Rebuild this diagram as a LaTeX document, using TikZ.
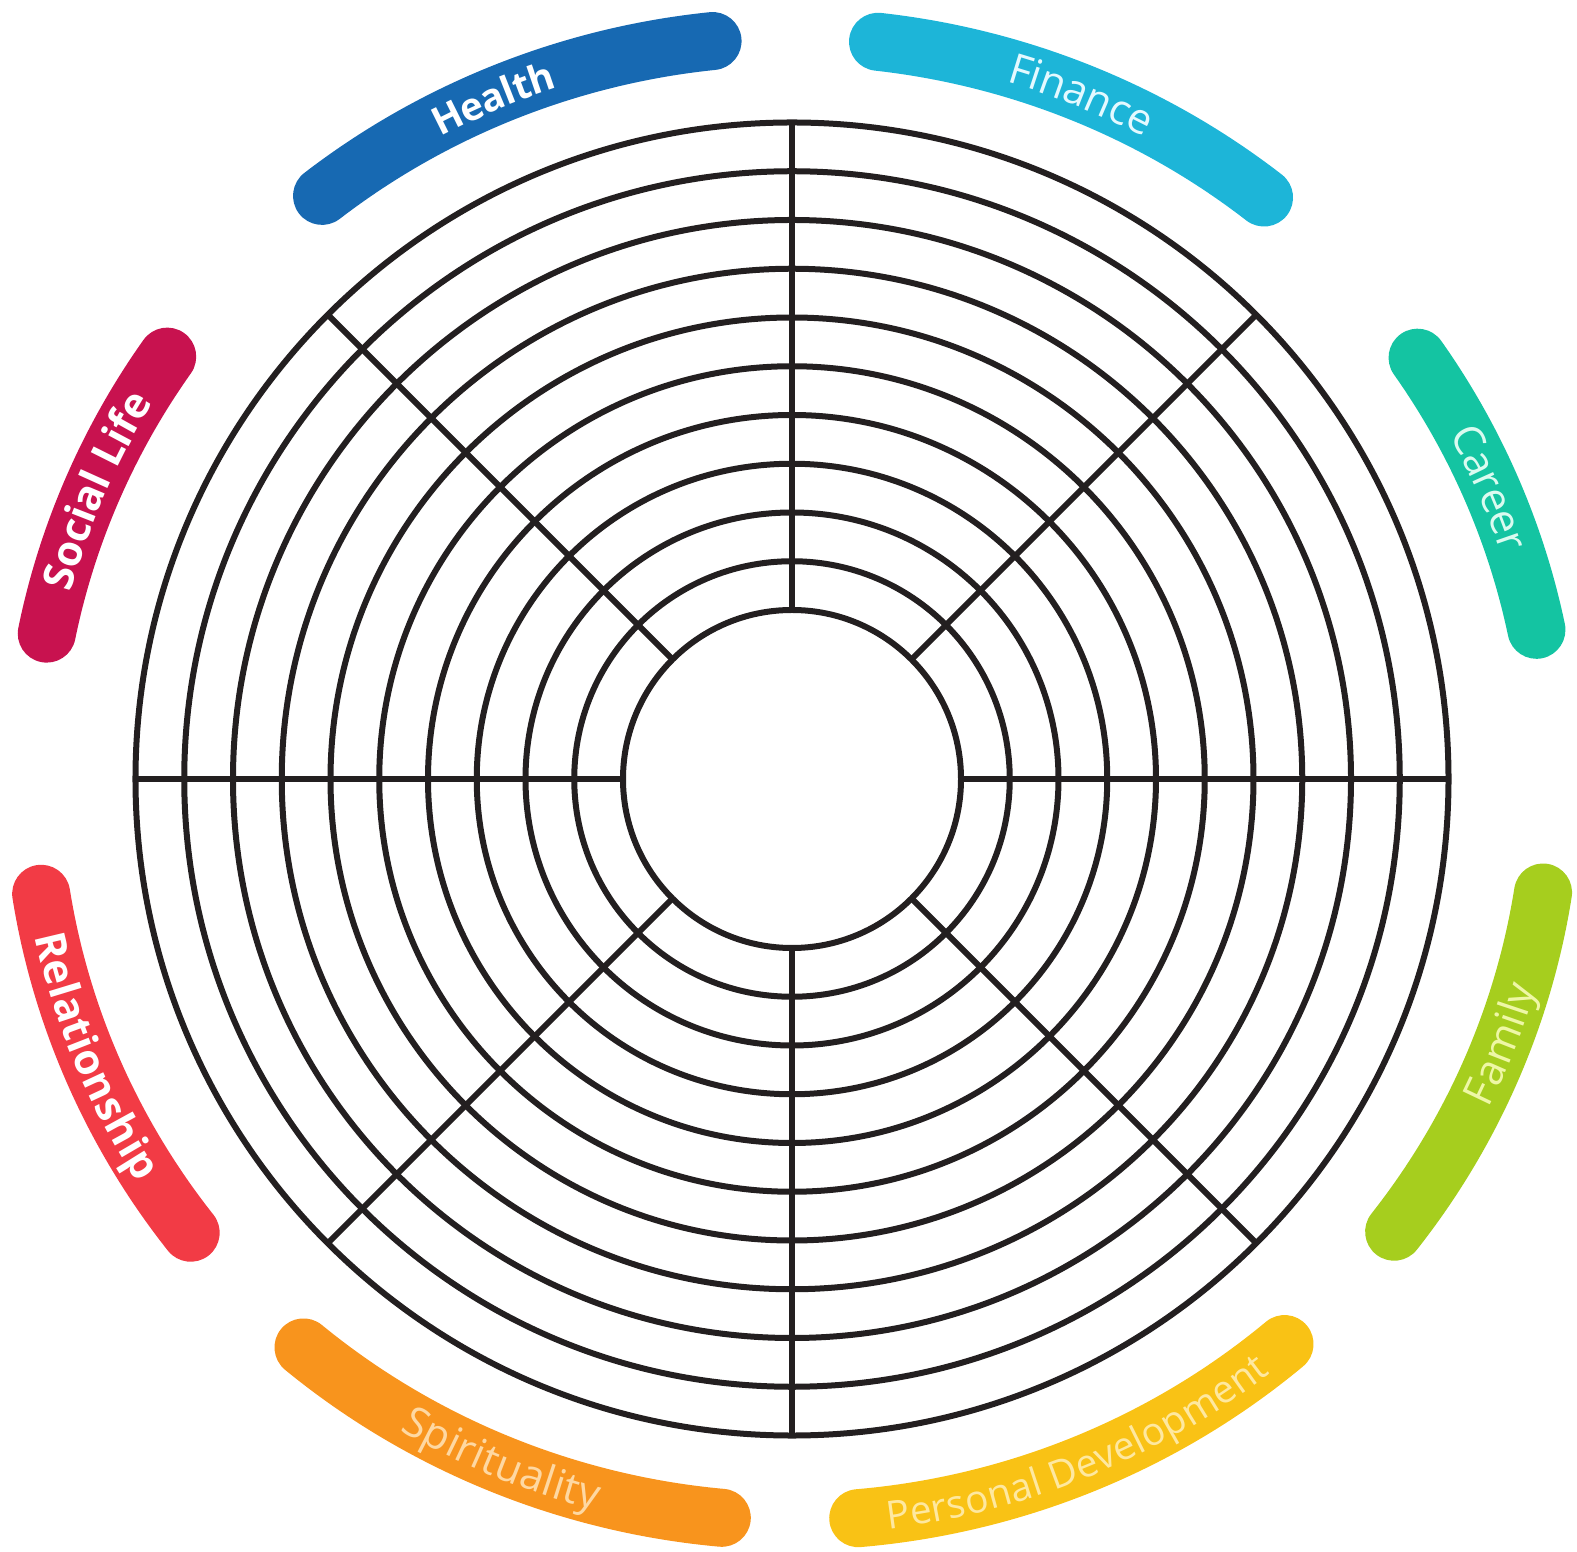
\documentclass[tikz,border=0pt]{standalone}
\usepackage{fontspec}
\setmainfont{Open Sans}
\usetikzlibrary{decorations.text}

\definecolor{gridline}{HTML}{231F20}
\definecolor{healthblue}{HTML}{1769B2}
\definecolor{financecyan}{HTML}{1DB5D8}
\definecolor{careerteal}{HTML}{14C4A2}
\definecolor{familygreen}{HTML}{A6CE1E}
\definecolor{growthyellow}{HTML}{F9C215}
\definecolor{spiritorange}{HTML}{F8941D}
\definecolor{relationred}{HTML}{F23B45}
\definecolor{socialcrimson}{HTML}{C8124F}
\definecolor{financetxt}{HTML}{E4F9FF}
\definecolor{careertxt}{HTML}{DAFBF0}
\definecolor{familytxt}{HTML}{EEF7A6}
\definecolor{growthtxt}{HTML}{FEE8A0}
\definecolor{spirittxt}{HTML}{FED8A2}

\newcommand{\bandfont}{\fontsize{12}{14}\selectfont}
\newcommand{\smallbandfont}{\fontsize{11}{13}\selectfont}

\begin{document}
\begin{tikzpicture}[
    grid/.style={draw=gridline, line width=0.06cm},
    band/.style={line width=0.58cm, line cap=round},
    bandtext/.style 2 args={postaction={decorate, decoration={text along path,
                     text={#2}, text align={center, #1}, raise=-1.4mm}}}
]
\useasboundingbox (-7.92,-7.72) rectangle (7.85,7.79);

% Centre
\coordinate (hub) at (0,0);

% Rings
\foreach \r in {0,...,10}
    \draw[grid] (hub) circle[radius=1.69+0.4875*\r];

% Spokes
\foreach \a in {0,45,...,315}
    \draw[grid] ([shift={(\a:1.69)}]hub) -- ([shift={(\a:6.565)}]hub);

% Upper bands (clockwise)
\draw[band, healthblue, bandtext={right indent=3mm}{|\smallbandfont\bfseries\color{white}|Health}]
    ([shift={(128.2:7.6 and 7.42)}]hub) arc[start angle=128.2, end angle=96, x radius=7.6, y radius=7.42];
\draw[band, financecyan, bandtext={}{|\bandfont\color{financetxt}|Finance}]
    ([shift={(83.5:7.6 and 7.42)}]hub) arc[start angle=83.5, end angle=51.6, x radius=7.6, y radius=7.42];
\draw[band, careerteal, bandtext={}{|\bandfont\color{careertxt}|Career}]
    ([shift={(34.6:7.6 and 7.42)}]hub) arc[start angle=34.6, end angle=11.6, x radius=7.6, y radius=7.42];
\draw[band, socialcrimson, bandtext={}{|\bandfont\bfseries\color{white}|Social Life}]
    ([shift={(168.7:7.6 and 7.42)}]hub) arc[start angle=168.7, end angle=145.3, x radius=7.6, y radius=7.42];

% Lower bands (counter-clockwise)
\draw[band, familygreen, bandtext={left indent=6mm}{|\bandfont\color{familytxt}|Family}]
    ([shift={(-37.6:7.6 and 7.42)}]hub) arc[start angle=-37.6, end angle=-8.8, x radius=7.6, y radius=7.42];
\draw[band, growthyellow, bandtext={}{|\smallbandfont\color{growthtxt}|Personal Development}]
    ([shift={(-85:7.6 and 7.42)}]hub) arc[start angle=-85, end angle=-49.6, x radius=7.6, y radius=7.42];
\draw[band, spiritorange, bandtext={}{|\bandfont\color{spirittxt}|Spirituality}]
    ([shift={(-130:7.6 and 7.42)}]hub) arc[start angle=-130, end angle=-95.3, x radius=7.6, y radius=7.42];
\draw[band, relationred, bandtext={right indent=3mm}{|\bandfont\bfseries\color{white}|Relationship}]
    ([shift={(188.9:7.6 and 7.42)}]hub) arc[start angle=188.9, end angle=217.7, x radius=7.6, y radius=7.42];
\end{tikzpicture}
\end{document}
